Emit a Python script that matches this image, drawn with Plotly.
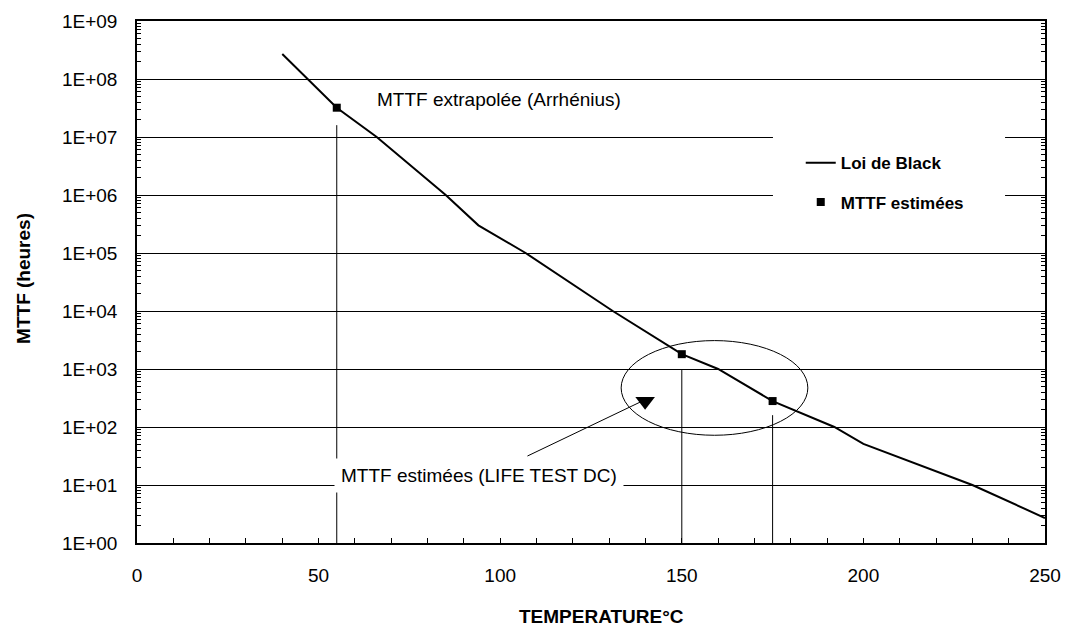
import plotly.graph_objects as go

# Black's law curve (temperature in °C, MTTF in hours)
temps = [40, 47, 55, 66, 85, 94, 107, 131, 150, 160, 175, 192, 200, 230, 250]
mttf_black = [2.7e8, 1.0e8, 3.2e7, 1.0e7, 1.0e6, 3.0e5, 1.0e5, 1.0e4,
              1.8e3, 1.0e3, 2.8e2, 1.0e2, 5.1e1, 1.0e1, 2.7]

# Estimated MTTF points (extrapolated + life test DC)
est_temps = [55, 150, 175]
est_mttf = [3.2e7, 1.8e3, 2.8e2]
# upper end of the drop lines below each estimated point
drop_top = [1.6e7, 9.6e2, 1.6e2]

# y tick labels
y_tickvals = [10 ** k for k in range(10)]
y_ticktext = ["1E+%02d" % k for k in range(10)]
x_tickvals = [0, 50, 100, 150, 200, 250]

FONT = "Arial, Liberation Sans, sans-serif"

fig = go.Figure()

# drop lines from estimated points to the x axis
drop_x, drop_y = [], []
for t, top in zip(est_temps, drop_top):
    drop_x += [t, t, None]
    drop_y += [top, 1, None]
fig.add_trace(go.Scatter(x=drop_x, y=drop_y, mode="lines",
                         line=dict(color="black", width=1),
                         showlegend=False, hoverinfo="skip"))

fig.add_trace(go.Scatter(x=temps, y=mttf_black, mode="lines",
                         name="<b>Loi de Black</b>", legendgroup="a",
                         line=dict(color="black", width=2)))
fig.add_trace(go.Scatter(x=est_temps, y=est_mttf, mode="markers",
                         name="<b>MTTF estimées</b>", legendgroup="b",
                         marker=dict(symbol="square", size=8, color="black")))

# arrow pointing into the life-test ellipse
arrow_x = [107.5, 138.6]
arrow_y = [31.6, 270]
fig.add_trace(go.Scatter(x=arrow_x, y=arrow_y, mode="lines",
                         line=dict(color="black", width=1),
                         showlegend=False, hoverinfo="skip"))
fig.add_trace(go.Scatter(x=[139.9], y=[277], mode="markers",
                         marker=dict(symbol="triangle-down", size=17, color="black"),
                         showlegend=False, hoverinfo="skip"))

# ellipse around the life-test points
fig.add_shape(type="circle", xref="x", yref="y",
              x0=133.3, x1=184.7, y0=72, y1=3090,
              line=dict(color="black", width=1))

# white backing for the legend
fig.add_shape(type="rect", xref="paper", yref="paper", layer="above",
              x0=0.7004, x1=0.956, y0=0.628, y1=0.801,
              line=dict(width=0), fillcolor="white")

fig.add_annotation(text="MTTF extrapolée (Arrhénius)", xref="paper", yref="paper",
                   x=0.262, y=0.8487, xanchor="left", yanchor="middle",
                   showarrow=False, font=dict(family=FONT, size=19, color="black"))
fig.add_annotation(text="MTTF estimées (LIFE TEST DC)", xref="paper", yref="paper",
                   x=0.217, y=0.130, xanchor="left", yanchor="middle",
                   showarrow=False, bgcolor="white", borderpad=6,
                   font=dict(family=FONT, size=19, color="black"))

# axis titles
fig.add_annotation(text="<b>TEMPERATURE°C</b>", xref="paper", yref="paper",
                   x=0.512, y=0, yshift=-73, xanchor="center", yanchor="middle",
                   showarrow=False, font=dict(family=FONT, size=19, color="black"))
fig.add_annotation(text="<b>MTTF (heures)</b>", xref="paper", yref="paper",
                   x=-0.1244, y=0.506, xanchor="center", yanchor="middle",
                   textangle=-90, showarrow=False,
                   font=dict(family=FONT, size=19, color="black"))

fig.update_xaxes(range=[0, 250], tickvals=x_tickvals, automargin=False,
                 ticks="inside", ticklen=5, tickcolor="black",
                 minor=dict(dtick=10, ticks="inside", ticklen=5, tickcolor="black"),
                 showgrid=False, zeroline=False,
                 showline=True, linecolor="black", linewidth=1.5, mirror=True,
                 ticklabelstandoff=14,
                 tickfont=dict(family=FONT, size=19, color="black"))
fig.update_yaxes(type="log", range=[0, 9], tickvals=y_tickvals, ticktext=y_ticktext,
                 automargin=False,
                 ticks="inside", ticklen=5, tickcolor="black",
                 minor=dict(dtick="D1", ticks="inside", ticklen=4, tickcolor="black"),
                 showgrid=True, gridcolor="black", gridwidth=1, zeroline=False,
                 showline=True, linecolor="black", linewidth=1.5, mirror="ticks",
                 ticklabelstandoff=14,
                 tickfont=dict(family=FONT, size=19, color="black"))

fig.update_layout(
    width=1066, height=627,
    margin=dict(l=137, r=21, t=21, b=84, autoexpand=False),
    paper_bgcolor="white", plot_bgcolor="white",
    showlegend=True,
    legend=dict(x=0.731, y=0.762, xanchor="left", yanchor="top",
                bgcolor="rgba(0,0,0,0)", borderwidth=0, tracegroupgap=14,
                font=dict(family=FONT, size=17, color="black")),
)

fig.write_html("out.html")
